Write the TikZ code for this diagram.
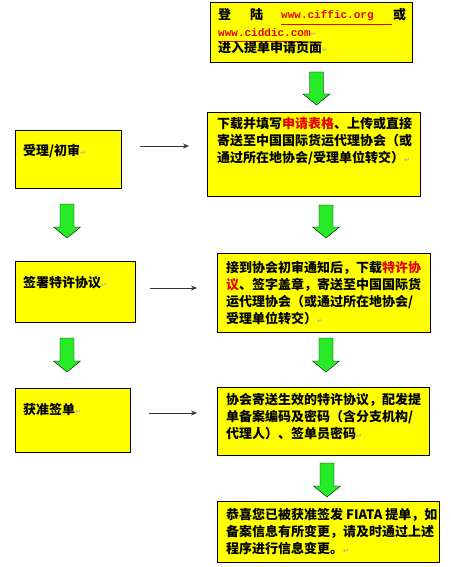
\documentclass[tikz,border=0pt]{standalone}
\usepackage{fontspec}
\newfontfamily\cjk{Noto Sans CJK SC}
\newfontfamily\mono{Liberation Mono}
\newfontfamily\symb{DejaVu Sans}
\usetikzlibrary{arrows.meta}
\definecolor{boxyellow}{RGB}{255,255,0}
\definecolor{arrowgreen}{RGB}{40,235,40}
\definecolor{linkred}{RGB}{230,0,0}
\newcommand{\parmark}{{\symb\fontsize{7}{7}\selectfont\textcolor{gray!60}{↵}}}
\tikzset{
  box/.style={draw=black, line width=1pt, fill=boxyellow},
  txt/.style={anchor=north west, inner sep=0pt, align=left, font=\cjk\bfseries\fontsize{13}{17}\selectfont},
  url/.style={anchor=north west, inner sep=0pt, font=\mono\bfseries\fontsize{11}{17}\selectfont, text=linkred},
  garrow/.style={draw=black, line width=0.4pt, fill=arrowgreen},
  conn/.style={draw=black!80, line width=0.8pt, -{Stealth[length=6pt,width=5pt]}}
}
\newcommand{\greenarrow}[3]{% cx, top, tip
  \path[garrow] (#1-7,#2) -- (#1+7,#2) -- (#1+7,#3-11) -- (#1+13.5,#3-11) -- (#1,#3) -- (#1-13.5,#3-11) -- (#1-7,#3-11) -- cycle;}
\begin{document}
\begin{tikzpicture}[x=1pt,y=-1pt]
\useasboundingbox (0,0) rectangle (450,567);
% boxes
\path[box] (210,3) rectangle (412,63) node[pos=.5,inner sep=0pt] (r1) {};
\path[box] (207,113) rectangle (420,196) node[pos=.5,inner sep=0pt] (r2) {};
\path[box] (217,253) rectangle (430,332) node[pos=.5,inner sep=0pt] (r3) {};
\path[box] (217,387) rectangle (429,455) node[pos=.5,inner sep=0pt] (r4) {};
\path[box] (217,501) rectangle (439,562) node[pos=.5,inner sep=0pt] (r5) {};
\path[box] (15,130) rectangle (121,188) node[pos=.5,inner sep=0pt] (l1) {};
\path[box] (15,261) rectangle (135,322) node[pos=.5,inner sep=0pt] (l2) {};
\path[box] (15,388) rectangle (130,452) node[pos=.5,inner sep=0pt] (l3) {};
% box 1 text
\node[txt] (t1a) at (218,8) {登};
\node[txt] (t1b) at (250,8) {陆};
\node[url] (t1c) at (281,10) {www.ciffic.org};
\node[txt] (t1d) at (393,8) {或};
\draw[linkred, line width=0.8pt] (281,24) -- (392,24);
\node[url] (t1e) at (218,28) {www.ciddic.com\parmark};
\draw[linkred, line width=0.8pt] (218,41.5) -- (302,41.5);
\node[txt] (t1f) at (218,41) {进入提单申请页面\parmark};
% box 2 text
\node[txt] (t2) at (217,117) {下载并填写\textcolor{linkred}{申请表格}、上传或直接\\寄送至中国国际货运代理协会（或\\通过所在地协会/受理单位转交）\parmark};
% box 3 text
\node[txt] (t3) at (226,261) {接到协会初审通知后，下载\textcolor{linkred}{特许协}\\\textcolor{linkred}{议}、签字盖章，寄送至中国国际货\\运代理协会（或通过所在地协会/\\受理单位转交）\parmark};
% box 4 text
\node[txt] (t4) at (226,393) {协会寄送生效的特许协议，配发提\\单备案编码及密码（含分支机构/\\代理人）、签单员密码\parmark};
% box 5 text
\node[txt] (t5) at (226,508) {恭喜您已被获准签发 FIATA 提单，如\\备案信息有所变更，请及时通过上述\\程序进行信息变更。\parmark};
% left texts
\node[txt] (tl1) at (23,144) {受理/初审\parmark};
\node[txt] (tl2) at (23,276) {签署特许协议\parmark};
\node[txt] (tl3) at (23,403) {获准签单\parmark};
% connectors
\coordinate (a1s) at (140,146); \coordinate (a1e) at (189,146);
\coordinate (a2s) at (150,288); \coordinate (a2e) at (197,288);
\coordinate (a3s) at (149,413); \coordinate (a3e) at (197,413);
\draw[conn] (a1s) -- (a1e);
\draw[conn] (a2s) -- (a2e);
\draw[conn] (a3s) -- (a3e);
% green block arrows
\greenarrow{316.5}{72}{105}
\greenarrow{67}{204}{238}
\greenarrow{326}{205}{238}
\greenarrow{67}{338}{372}
\greenarrow{326}{338}{372}
\greenarrow{327}{463}{497}
\end{tikzpicture}
\end{document}
